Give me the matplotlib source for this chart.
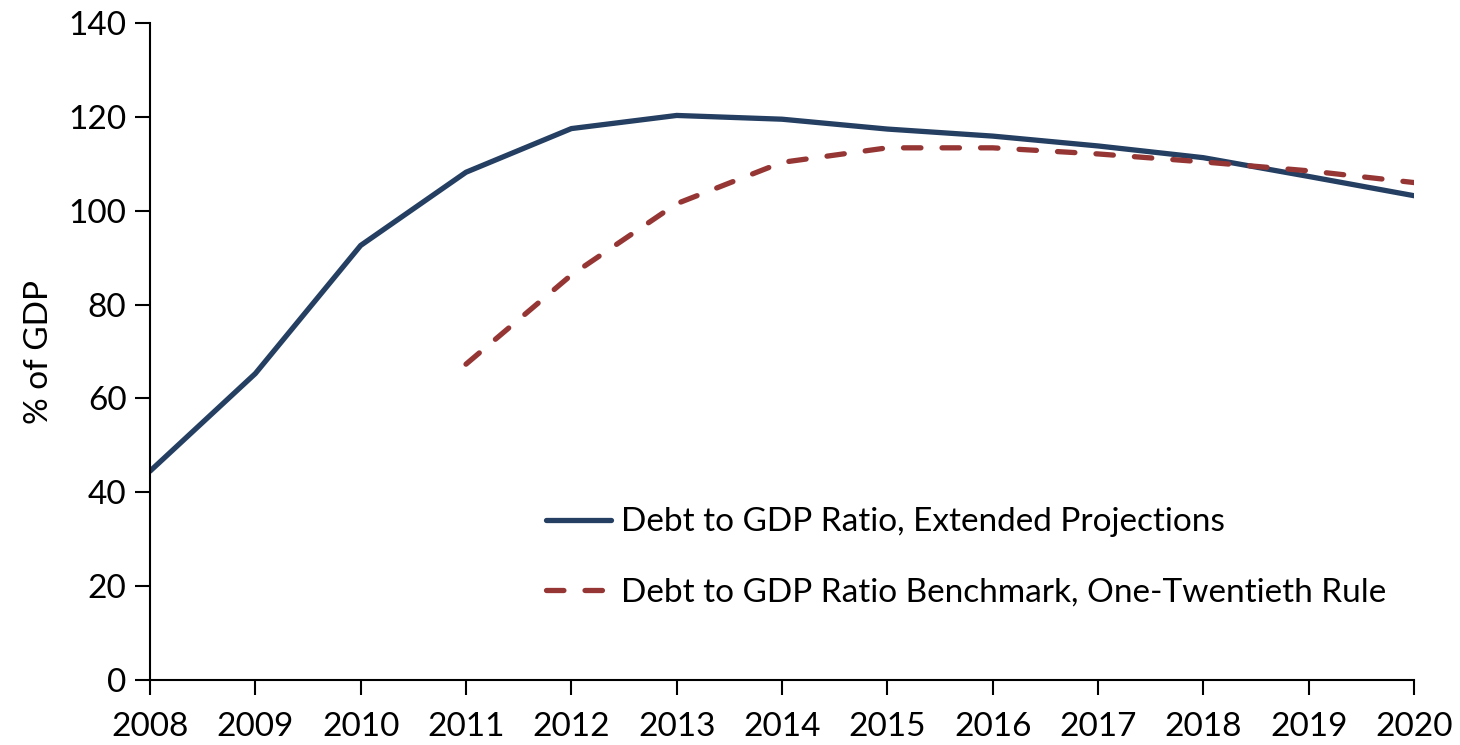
import matplotlib
matplotlib.use("Agg")
import matplotlib.pyplot as plt

years = [2008, 2009, 2010, 2011, 2012, 2013, 2014, 2015, 2016, 2017, 2018, 2019, 2020]
debt_extended = [44.5, 65.3, 92.6, 108.2, 117.5, 120.3, 119.5, 117.4, 115.9, 113.8, 111.3, 107.3, 103.2]

bench_years = [2011, 2012, 2013, 2014, 2015, 2016, 2017, 2018, 2019, 2020]
debt_benchmark = [67.3, 86.3, 101.5, 110.3, 113.4, 113.4, 112.1, 110.4, 108.5, 106.0]

label_extended = "Debt to GDP Ratio, Extended Projections"
label_benchmark = "Debt to GDP Ratio Benchmark, One-Twentieth Rule"

plt.rcParams['font.family'] = ['Lato', 'DejaVu Sans']

fig = plt.figure(figsize=(14.6, 7.45), dpi=100)
ax = fig.add_axes([150/1460, 65/745, 1264/1460, 657/745])

navy = "#243F62"
red = "#963634"

ax.plot(years, debt_extended, color=navy, lw=3.8, solid_capstyle="round",
        solid_joinstyle="round", label=label_extended)
ax.plot(bench_years, debt_benchmark, color=red, lw=3.8, dashes=(3.3, 4),
        dash_capstyle="round", label=label_benchmark)

ax.set_xlim(2008, 2020)
ax.set_ylim(0, 140)
ax.set_xticks(years)
ax.set_yticks(range(0, 141, 20))
ax.tick_params(axis="both", direction="out", length=11, width=1.5, labelsize=24)
ax.tick_params(axis="x", pad=12)
ax.tick_params(axis="y", pad=6)
for s in ["top", "right"]:
    ax.spines[s].set_visible(False)
for s in ["left", "bottom"]:
    ax.spines[s].set_linewidth(1.5)

ax.set_ylabel("% of GDP", fontsize=24, labelpad=10)

# legende sin marco, dentro del area del grafico
leg = ax.legend(loc="lower left", bbox_to_anchor=(0.3, 0.085), frameon=False,
                borderpad=0, fontsize=24, handlelength=1.95, handletextpad=0.3,
                labelspacing=1.2)

fig.savefig("out.png", dpi=100)
